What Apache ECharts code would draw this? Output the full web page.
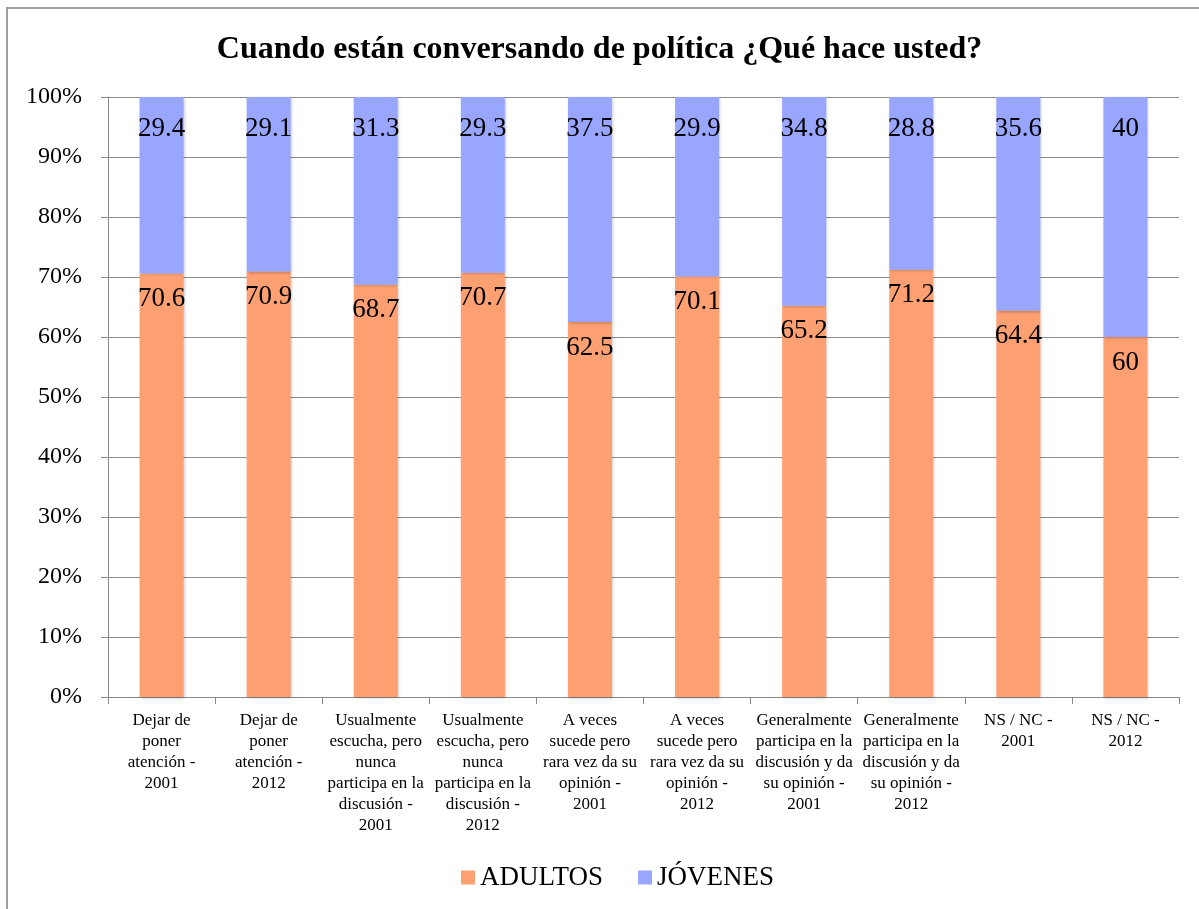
<!DOCTYPE html>
<html>
<head>
<meta charset="utf-8">
<script src="https://cdn.jsdelivr.net/npm/echarts@6/dist/echarts.min.js"></script>
<style>
  html, body { margin: 0; padding: 0; background: #fff; }
  #frame { position: absolute; left: 6px; top: 7px; width: 1200px; height: 910px; border-left: 2px solid #a0a0a0; border-top: 2px solid #a0a0a0; }
  #chart { position: absolute; left: 0; top: 0; width: 1199px; height: 909px; }
</style>
</head>
<body>
<div id="frame"></div>
<div id="chart"></div>
<script>
// tick labels (already wrapped the way the original shows them)
const categories = [
  'Dejar de\nponer\natención -\n2001',
  'Dejar de\nponer\natención -\n2012',
  'Usualmente\nescucha, pero\nnunca\nparticipa en la\ndiscusión -\n2001',
  'Usualmente\nescucha, pero\nnunca\nparticipa en la\ndiscusión -\n2012',
  'A veces\nsucede pero\nrara vez da su\nopinión -\n2001',
  'A veces\nsucede pero\nrara vez da su\nopinión -\n2012',
  'Generalmente\nparticipa en la\ndiscusión y da\nsu opinión -\n2001',
  'Generalmente\nparticipa en la\ndiscusión y da\nsu opinión -\n2012',
  'NS / NC -\n2001',
  'NS / NC -\n2012'
]
const adultos = [70.6, 70.9, 68.7, 70.7, 62.5, 70.1, 65.2, 71.2, 64.4, 60]
const jovenes = [29.4, 29.1, 31.3, 29.3, 37.5, 29.9, 34.8, 28.8, 35.6, 40]

const font = 'Liberation Serif'
const chart = echarts.init(document.getElementById('chart'))

function seriesOf(name, data, color, labelGap) {
  return {
    name: name,
    type: 'bar',
    stack: 'total',
    barWidth: 44,
    data: data,
    itemStyle: {
      color: color,
      shadowColor: 'rgba(0,0,0,0.25)',
      shadowBlur: 3,
      shadowOffsetX: 1,
      shadowOffsetY: 1
    },
    label: {
      show: true,
      position: 'insideTop',
      distance: labelGap,
      color: '#000',
      fontFamily: font,
      fontSize: 27
    }
  }
}

chart.setOption({
  animation: false,
  title: {
    text: 'Cuando están conversando de política ¿Qué hace usted?',
    left: 'center',
    top: 29,
    textStyle: { fontFamily: font, fontSize: 32, fontWeight: 'bold', color: '#000' }
  },
  legend: {
    bottom: 13,
    left: 456,
    itemWidth: 14,
    itemHeight: 14,
    itemGap: 35,
    icon: 'rect',
    textStyle: { fontFamily: font, fontSize: 27, color: '#000' },
    data: ['ADULTOS', 'JÓVENES']
  },
  grid: { left: 108, right: 20, top: 97, bottom: 212 },
  xAxis: {
    type: 'category',
    data: categories,
    axisLine: { lineStyle: { color: '#888', width: 1 } },
    axisTick: { show: true, length: 7, alignWithLabel: false, lineStyle: { color: '#888' } },
    axisLabel: {
      interval: 0,
      margin: 13,
      fontFamily: font,
      fontSize: 17,
      lineHeight: 21,
      color: '#000'
    }
  },
  yAxis: {
    type: 'value',
    min: 0,
    max: 100,
    interval: 10,
    axisLine: { show: true, lineStyle: { color: '#888' } },
    axisTick: { show: true, length: 7, lineStyle: { color: '#888' } },
    splitLine: { lineStyle: { color: '#8c8c8c', width: 1 } },
    axisLabel: {
      formatter: '{value}%',
      margin: 26,
      fontFamily: font,
      fontSize: 24,
      color: '#000'
    }
  },
  series: [
    seriesOf('ADULTOS', adultos, '#FFA073', 12),
    seriesOf('JÓVENES', jovenes, '#99A6FF', 18)
  ]
})
</script>
</body>
</html>
